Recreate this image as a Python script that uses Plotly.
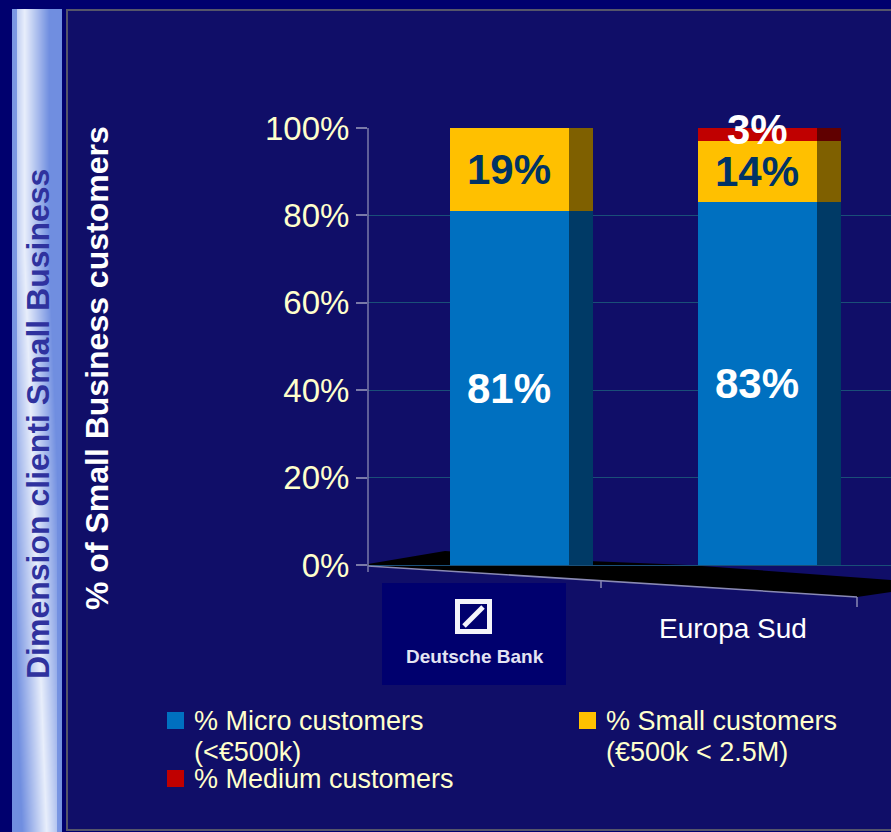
import base64
import struct
import zlib

import plotly.graph_objects as go

W, H = 891, 832

# ---- data -------------------------------------------------------------
categories = ["Deutsche Bank", "Europa Sud"]
micro = [81, 83]
small = [19, 14]
medium = [0, 3]

series_names = ["% Micro customers", "% Small customers", "% Medium customers"]
series_notes = ["(<€500k)", "(€500k < 2.5M)", "(>€2.5M)"]
y_ticks = [0, 20, 40, 60, 80, 100]
y_tick_text = [f"{v}%" for v in y_ticks]

# ---- styling ----------------------------------------------------------
FRONT = ["#0070c0", "#ffc000", "#c00000"]
SIDE = ["#003a66", "#7f6000", "#600000"]
LABEL = ["#ffffff", "#003366", "#ffffff"]
LABEL_SHIFT = [0, 0, 5]
OUTER_BG = "#00006e"
PANEL_BG = "#100e68"
CREAM = "#ffffcc"
FONT = "Liberation Sans"

BAR_W = 0.48
DEPTH = 0.10


def px(x):
    return x / W


def py(y):
    return 1 - y / H


def gradient_png(w, h, color_at):
    """Encode a small RGB gradient as a PNG data URI."""
    raw = bytearray()
    for j in range(h):
        raw.append(0)
        for i in range(w):
            raw.extend(color_at(i / (w - 1), j / (h - 1)))

    def chunk(tag, data):
        return (struct.pack(">I", len(data)) + tag + data
                + struct.pack(">I", zlib.crc32(tag + data) & 0xFFFFFFFF))

    png = (b"\x89PNG\r\n\x1a\n"
           + chunk(b"IHDR", struct.pack(">IIBBBBB", w, h, 8, 2, 0, 0, 0))
           + chunk(b"IDAT", zlib.compress(bytes(raw), 9))
           + chunk(b"IEND", b""))
    return "data:image/png;base64," + base64.b64encode(png).decode()


LIGHT = (232, 238, 251)
BLUE = (112, 142, 224)


def strip_color(xf, yf):
    peak = 0.25 + max(0.0, yf - 0.3) * 0.64
    t = max(0.0, min(1.0, 1 - abs(xf - peak) / 0.5))
    if xf < 0.09 or xf > 0.9:
        t *= 0.15
    return tuple(int(round(b + (l - b) * t)) for l, b in zip(LIGHT, BLUE))


fig = go.Figure()
annotations = []
shapes = []

# ---- stacked 3D-style bars (front face + darker side face) -----------
series = [micro, small, medium]
xs = list(range(len(categories)))
base = [0] * len(categories)
for k, vals in enumerate(series):
    fig.add_bar(x=xs, y=vals, base=base, width=BAR_W, offset=-BAR_W / 2,
                marker=dict(color=FRONT[k], line=dict(width=0)),
                showlegend=False, hoverinfo="skip", cliponaxis=False)
    fig.add_bar(x=xs, y=vals, base=base, width=DEPTH, offset=BAR_W / 2,
                marker=dict(color=SIDE[k], line=dict(width=0)),
                showlegend=False, hoverinfo="skip", cliponaxis=False)
    for i, v in enumerate(vals):
        if v > 0:
            annotations.append(dict(
                x=i, y=base[i] + v / 2, xref="x", yref="y", text=f"{v}%",
                xanchor="center", yanchor="middle", showarrow=False,
                yshift=LABEL_SHIFT[k],
                font=dict(family=FONT, size=42, color=LABEL[k], weight="bold")))
    base = [b + v for b, v in zip(base, vals)]

# ---- background panels ------------------------------------------------
shapes.append(dict(type="rect", xref="paper", yref="paper", layer="below",
                   x0=px(67), x1=px(W + 10), y0=py(830), y1=py(10),
                   fillcolor=PANEL_BG, line=dict(color="#55556a", width=2)))

# ---- floor of the 3D plot ---------------------------------------------
floor_pts = [(368, 564), (445, 551), (588, 561), (688, 565), (891, 580),
             (891, 592), (857, 597), (368, 566)]
path = "M " + " L ".join(f"{px(a):.5f},{py(b):.5f}" for a, b in floor_pts) + " Z"
shapes.append(dict(type="path", xref="paper", yref="paper", layer="below",
                   path=path, fillcolor="#000000", line=dict(width=0)))
shapes.append(dict(type="line", xref="paper", yref="paper",
                   x0=px(368), y0=py(566), x1=px(857), y1=py(597),
                   line=dict(color="#8a8ab4", width=1.5)))
for tx, ty0, ty1 in [(601, 580, 588), (857, 597, 607)]:
    shapes.append(dict(type="line", xref="paper", yref="paper",
                       x0=px(tx), x1=px(tx), y0=py(ty0), y1=py(ty1),
                       line=dict(color="#8a8ab4", width=1.5)))

# vertical value axis line
shapes.append(dict(type="line", xref="paper", yref="y",
                   x0=px(368), x1=px(368), y0=-1.6, y1=100,
                   line=dict(color="#7a7aa8", width=1.5)))

# ---- category labels --------------------------------------------------
# Deutsche Bank logo block
shapes.append(dict(type="rect", xref="paper", yref="paper", layer="below",
                   x0=px(382), x1=px(566), y0=py(685), y1=py(583),
                   fillcolor=OUTER_BG, line=dict(width=0)))
shapes.append(dict(type="rect", xref="paper", yref="paper",
                   x0=px(457.5), x1=px(489.5), y0=py(631.5), y1=py(601.5),
                   fillcolor="rgba(0,0,0,0)", line=dict(color="#f4f4fa", width=5)))
shapes.append(dict(type="line", xref="paper", yref="paper",
                   x0=px(464), y0=py(626), x1=px(483), y1=py(607),
                   line=dict(color="#f4f4fa", width=5)))
annotations.append(dict(x=px(475), y=py(656), xref="paper", yref="paper",
                        xanchor="center", yanchor="middle",
                        text=categories[0], showarrow=False,
                        font=dict(family=FONT, size=19, color="#e4e4f2", weight="bold")))
annotations.append(dict(x=1, y=py(628), xref="x", yref="paper", xshift=-24,
                        xanchor="center", yanchor="middle",
                        text=categories[1], showarrow=False,
                        font=dict(family=FONT, size=28, color="#ffffff")))

# ---- titles -----------------------------------------------------------
annotations.append(dict(x=px(97), y=py(368), xref="paper", yref="paper",
                        xanchor="center", yanchor="middle",
                        text="% of Small Business customers", textangle=-90,
                        showarrow=False,
                        font=dict(family=FONT, size=32, color="#ffffff", weight="bold")))
annotations.append(dict(x=px(38), y=py(424), xref="paper", yref="paper",
                        xanchor="center", yanchor="middle",
                        text="Dimension clienti Small Business", textangle=-90,
                        showarrow=False,
                        font=dict(family=FONT, size=32, color="#2f329e", weight="bold")))

# ---- legend -----------------------------------------------------------
legend_pos = [(167, 712), (579, 712), (167, 770)]
for k, (lx, ly) in enumerate(legend_pos):
    shapes.append(dict(type="rect", xref="paper", yref="paper",
                       x0=px(lx), x1=px(lx + 17), y0=py(ly + 17), y1=py(ly),
                       fillcolor=FRONT[k], line=dict(width=0)))
    annotations.append(dict(x=px(lx + 25), y=py(ly + 9), xref="paper", yref="paper",
                            xanchor="left", yanchor="middle",
                            text=series_names[k], showarrow=False,
                            font=dict(family=FONT, size=27, color=CREAM)))
    if k < 2:
        annotations.append(dict(x=px(lx + 25), y=py(ly + 40), xref="paper", yref="paper",
                                xanchor="left", yanchor="middle",
                                text=series_notes[k], showarrow=False,
                                font=dict(family=FONT, size=27, color=CREAM)))

# ---- layout -----------------------------------------------------------
y_bot, y_top = 608.7, 128
fig.update_layout(
    template="none",
    width=W, height=H,
    margin=dict(l=0, r=0, t=0, b=0, autoexpand=False),
    paper_bgcolor=OUTER_BG, plot_bgcolor="rgba(0,0,0,0)",
    barmode="overlay", bargap=0,
    showlegend=False,
    shapes=shapes, annotations=annotations,
    images=[dict(source=gradient_png(50, 823, strip_color),
                 xref="paper", yref="paper", x=px(12), y=py(9),
                 sizex=50 / W, sizey=823 / H, sizing="stretch",
                 xanchor="left", yanchor="top", layer="below")],
    xaxis=dict(domain=[px(368), 1], range=[-0.569, 1.54], visible=False,
               automargin=False, fixedrange=True),
    yaxis=dict(domain=[py(y_bot), py(y_top)], range=[-10, 100],
               tickvals=y_ticks, ticktext=y_tick_text,
               tickfont=dict(family=FONT, size=33, color=CREAM),
               ticks="outside", ticklen=11, tickcolor="#7a7aa8", tickwidth=1.5,
               showgrid=True, gridcolor="#1a4f78", gridwidth=1,
               zeroline=False, showline=False, automargin=False, fixedrange=True),
)

fig.write_html("out.html")
